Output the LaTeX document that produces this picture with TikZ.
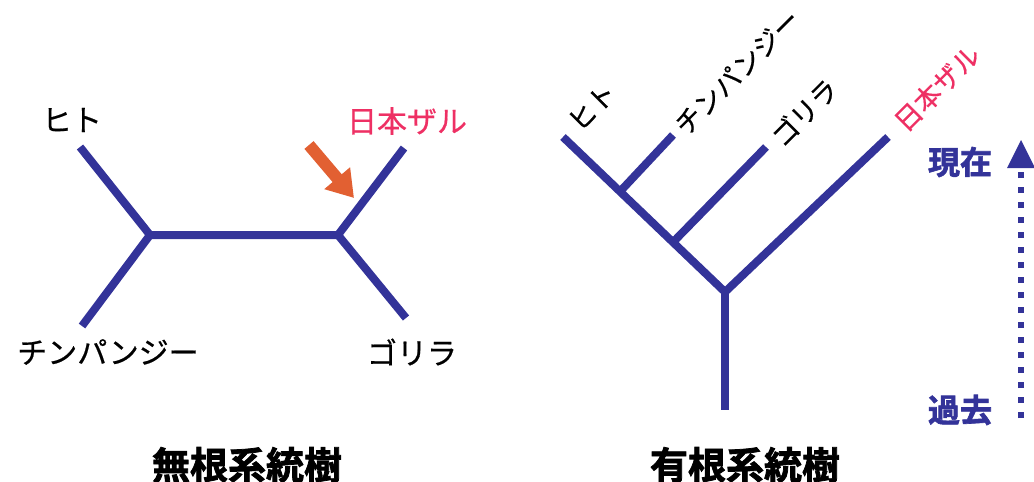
\documentclass[tikz,border=0pt]{standalone}
\usepackage{fontspec}
\setmainfont{Noto Sans CJK JP}[FakeBold=0.6]
\newfontfamily\jpbold{Noto Sans CJK JP Bold}[FakeBold=2]
\usetikzlibrary{arrows.meta,calc}
\definecolor{branch}{RGB}{51,51,153}
\definecolor{monkey}{RGB}{238,48,100}
\definecolor{pointer}{RGB}{226,96,50}
\tikzset{
  br/.style={draw=branch,line width=8pt},
  lab/.style={font=\fontsize{30}{32}\selectfont,text=black,inner sep=0pt},
  rlab/.style={font=\fontsize{27}{29}\selectfont,text=black,inner sep=0pt,rotate=45},
  ttl/.style={font=\jpbold\fontsize{38}{40}\selectfont,text=black,inner sep=0pt},
  tlab/.style={font=\jpbold\fontsize{32}{34}\selectfont,text=branch,inner sep=0pt},
}
\begin{document}
\begin{tikzpicture}[x=1pt,y=-1pt]
\useasboundingbox (0,0) rectangle (1034,482);

% unrooted tree
\coordinate (uL) at (150,235);
\coordinate (uR) at (338,235);
\coordinate (uHito) at (80,147);
\coordinate (uChimp) at (82,326);
\coordinate (uSaru) at (404,148);
\coordinate (uGori) at (406,318);
\draw[br] (uHito) -- (uL) -- (uR) -- (uSaru);
\draw[br] (uChimp) -- (uL);
\draw[br] (uR) -- (uGori);
\node[lab] (tHito) at (72,120) {ヒト};
\node[lab,text=monkey] (tSaru) at (407,121) {日本ザル};
\node[lab] (tChimp) at (108,352) {チンパンジー};
\node[lab] (tGori) at (412,352) {ゴリラ};
\coordinate (pA) at (309,145);
\coordinate (pB) at (354,198);
\draw[pointer,line width=12pt,-{Triangle[length=26pt,width=32pt]}] (pA) -- (pB);
\node[ttl] (uTitle) at (247,465) {無根系統樹};

% rooted tree
\coordinate (rRoot) at (725,410);
\coordinate (rJ) at (725,292);
\coordinate (rHito) at (563,137);
\coordinate (rSaru) at (888,137);
\coordinate (rGJ) at ($(rJ)!0.321!(rHito)$);
\coordinate (rCJ) at ($(rJ)!0.648!(rHito)$);
\coordinate (rGori) at (766,147);
\coordinate (rChimp) at (673,135);
\draw[br] (rHito) -- (rJ) -- (rSaru);
\draw[br] (rJ) -- (rRoot);
\draw[br] (rGJ) -- (rGori);
\draw[br] (rCJ) -- (rChimp);
\node[rlab] (sHito) at (592,107) {ヒト};
\node[rlab] (sChimp) at (737,72) {チンパンジー};
\node[rlab] (sGori) at (804,112) {ゴリラ};
\node[rlab,text=monkey] (sSaru) at (937,88) {日本ザル};
\node[ttl] (rTitle) at (745,465) {有根系統樹};

% time axis
\node[tlab] (now) at (960,162) {現在};
\node[tlab] (past) at (960,410) {過去};
\coordinate (tBot) at (1021,418);
\coordinate (tTop) at (1021,140);
\draw[branch,line width=6pt,dash pattern=on 6pt off 9pt] (tBot) -- (1021,166);
\fill[branch] (tTop) -- (1035,168) -- (1007,168) -- cycle;
\end{tikzpicture}
\end{document}
